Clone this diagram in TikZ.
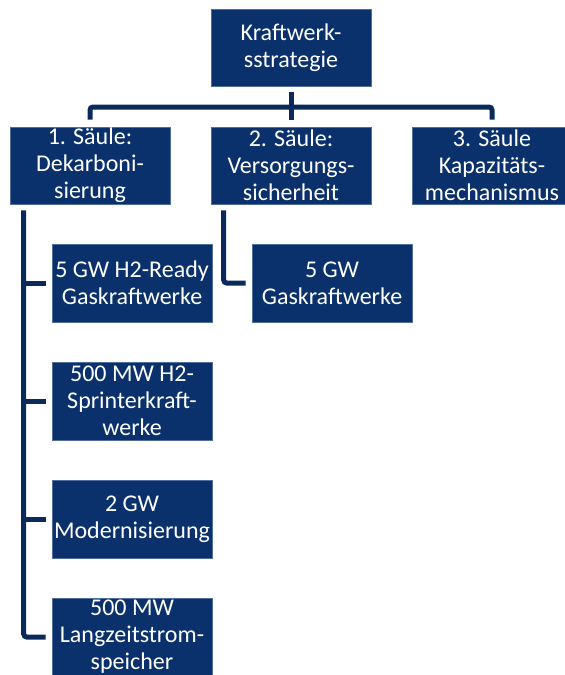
\documentclass[tikz,border=0pt]{standalone}
\usepackage{fontspec}
\setmainfont{Carlito}
\definecolor{boxfill}{RGB}{10,49,108}
\definecolor{boxedge}{RGB}{80,110,155}
\definecolor{linecol}{RGB}{10,42,92}
\tikzset{
  box/.style={rectangle, fill=boxfill, draw=boxedge, line width=0.6pt,
    minimum width=160pt, minimum height=77pt, inner sep=0pt,
    align=center, text=white, font=\fontsize{24pt}{27pt}\selectfont},
  conn/.style={draw=linecol, line width=5pt, rounded corners=3pt}
}
\begin{document}
\begin{tikzpicture}[x=1pt,y=-1pt]
\useasboundingbox (0,0) rectangle (565,675);
\clip (0,0) rectangle (565,675);
\node[box] (top) at (291,47.5) {Kraftwerk-\\sstrategie};
\node[box] (s1) at (90,165.5) {1. Säule:\\Dekarboni-\\sierung};
\node[box] (s2) at (291,165.5) {2. Säule:\\Versorgungs-\\sicherheit};
\node[box] (s3) at (492,165.5) {3. Säule\\Kapazitäts-\\mechanismus};
\node[box, minimum height=78pt] (c1) at (132,283) {5 GW H2-Ready\\Gaskraftwerke};
\node[box, minimum height=78pt] (c2) at (132,401) {500 MW H2-\\Sprinterkraft-\\werke};
\node[box, minimum height=78pt] (c3) at (132,519) {2 GW\\Modernisierung};
\node[box, minimum height=78pt] (c4) at (132,637) {500 MW\\Langzeitstrom-\\speicher};
\node[box, minimum height=78pt] (g1) at (332,283) {5 GW\\Gaskraftwerke};
% top level connectors
\coordinate (bar) at (291,107);
\draw[conn] ([yshift=-6pt]top.south) -- (top.south |- bar);
\draw[conn] ([yshift=7pt]s1.north) -- (s1.north |- bar) -- (s3.north |- bar) -- ([yshift=7pt]s3.north);
\draw[conn] (s2.north |- bar) -- ([yshift=7pt]s2.north);
% left trunk
\coordinate (ltop) at ([xshift=14pt,yshift=-6pt]s1.south west);
\draw[conn] (ltop) |- ([xshift=-6pt]c4.west);
\draw[conn] (ltop |- c1.west) -- ([xshift=-6pt]c1.west);
\draw[conn] (ltop |- c2.west) -- ([xshift=-6pt]c2.west);
\draw[conn] (ltop |- c3.west) -- ([xshift=-6pt]c3.west);
% middle trunk
\coordinate (mtop) at ([xshift=13pt,yshift=-6pt]s2.south west);
\draw[conn] (mtop) |- ([xshift=-6pt]g1.west);
\end{tikzpicture}
\end{document}
